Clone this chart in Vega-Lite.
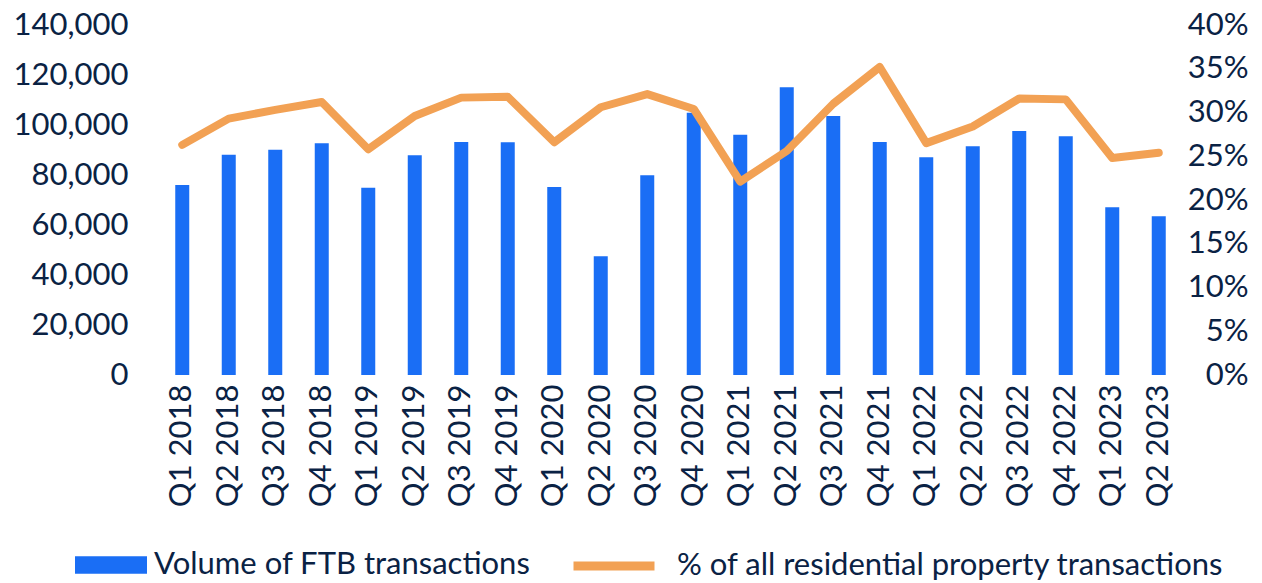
{
  "$schema": "https://vega.github.io/schema/vega-lite/v6.json",
  "autosize": {"type": "none"},
  "width": 1023,
  "height": 350,
  "padding": {"left": 159, "top": 25, "right": 80, "bottom": 208},
  "background": "white",
  "config": {
    "view": {"stroke": null},
    "font": "Lato",
    "axis": {"labelColor": "#0a2244", "labelFont": "Lato", "labelFontSize": 31, "ticks": false, "domain": false, "grid": false, "title": null},
    "legend": {"labelColor": "#0a2244", "labelFont": "Lato", "labelFontSize": 31, "title": null, "padding": 0, "labelLimit": 0}
  },
  "data": {
    "values": [
      {"q": "Q1 2018", "vol": 76000, "pct": 0.263},
      {"q": "Q2 2018", "vol": 88100, "pct": 0.293},
      {"q": "Q3 2018", "vol": 90100, "pct": 0.303},
      {"q": "Q4 2018", "vol": 92700, "pct": 0.312},
      {"q": "Q1 2019", "vol": 74900, "pct": 0.258},
      {"q": "Q2 2019", "vol": 87900, "pct": 0.296},
      {"q": "Q3 2019", "vol": 93200, "pct": 0.317},
      {"q": "Q4 2019", "vol": 93100, "pct": 0.318},
      {"q": "Q1 2020", "vol": 75200, "pct": 0.266},
      {"q": "Q2 2020", "vol": 47500, "pct": 0.306},
      {"q": "Q3 2020", "vol": 79900, "pct": 0.321},
      {"q": "Q4 2020", "vol": 104900, "pct": 0.304},
      {"q": "Q1 2021", "vol": 96100, "pct": 0.221},
      {"q": "Q2 2021", "vol": 115100, "pct": 0.256},
      {"q": "Q3 2021", "vol": 103600, "pct": 0.310},
      {"q": "Q4 2021", "vol": 93200, "pct": 0.352},
      {"q": "Q1 2022", "vol": 87100, "pct": 0.265},
      {"q": "Q2 2022", "vol": 91500, "pct": 0.284},
      {"q": "Q3 2022", "vol": 97600, "pct": 0.316},
      {"q": "Q4 2022", "vol": 95500, "pct": 0.315},
      {"q": "Q1 2023", "vol": 67100, "pct": 0.248},
      {"q": "Q2 2023", "vol": 63500, "pct": 0.254}
    ]
  },
  "encoding": {
    "x": {
      "field": "q", "type": "nominal", "sort": null,
      "scale": {"paddingInner": 0, "paddingOuter": 0},
      "axis": {"labelAngle": -90, "labelPadding": 9, "labelAlign": "right", "labelBaseline": "middle"}
    }
  },
  "layer": [
    {
      "mark": {"type": "bar", "size": 14},
      "encoding": {
        "y": {
          "field": "vol", "type": "quantitative",
          "scale": {"domain": [0, 140000], "nice": false},
          "axis": {"orient": "left", "format": ",.0f", "values": [0, 20000, 40000, 60000, 80000, 100000, 120000, 140000], "labelPadding": 31}
        },
        "color": {
          "datum": "Volume of FTB transactions",
          "scale": {"range": ["#1a6ef5"]},
          "legend": {
            "orient": "none", "legendX": -84, "legendY": 504,
            "symbolType": "M-1,-0.24H1V0.24H-1Z", "symbolSize": 5184,
            "symbolStrokeWidth": 0, "labelOffset": 7,
            "encode": {"symbols": {"enter": {"fill": {"value": "#4472c4"}}, "update": {"fill": {"value": "#4472c4"}, "stroke": {"value": "#4472c4"}}}}
          }
        }
      }
    },
    {
      "mark": {"type": "line", "strokeWidth": 8, "strokeCap": "round", "strokeJoin": "round"},
      "encoding": {
        "y": {
          "field": "pct", "type": "quantitative",
          "scale": {"domain": [0, 0.4], "nice": false},
          "axis": {"orient": "right", "format": ".0%", "values": [0, 0.05, 0.1, 0.15, 0.2, 0.25, 0.3, 0.35, 0.4], "labelAlign": "right", "labelPadding": 66}
        },
        "stroke": {
          "datum": "% of all residential property transactions",
          "scale": {"range": ["#f2a154"]},
          "legend": {
            "orient": "none", "legendX": 410, "legendY": 496,
            "symbolType": "stroke", "symbolSize": 6561, "symbolStrokeWidth": 9,
            "labelOffset": 18
          }
        }
      }
    }
  ],
  "resolve": {"scale": {"y": "independent"}}
}
